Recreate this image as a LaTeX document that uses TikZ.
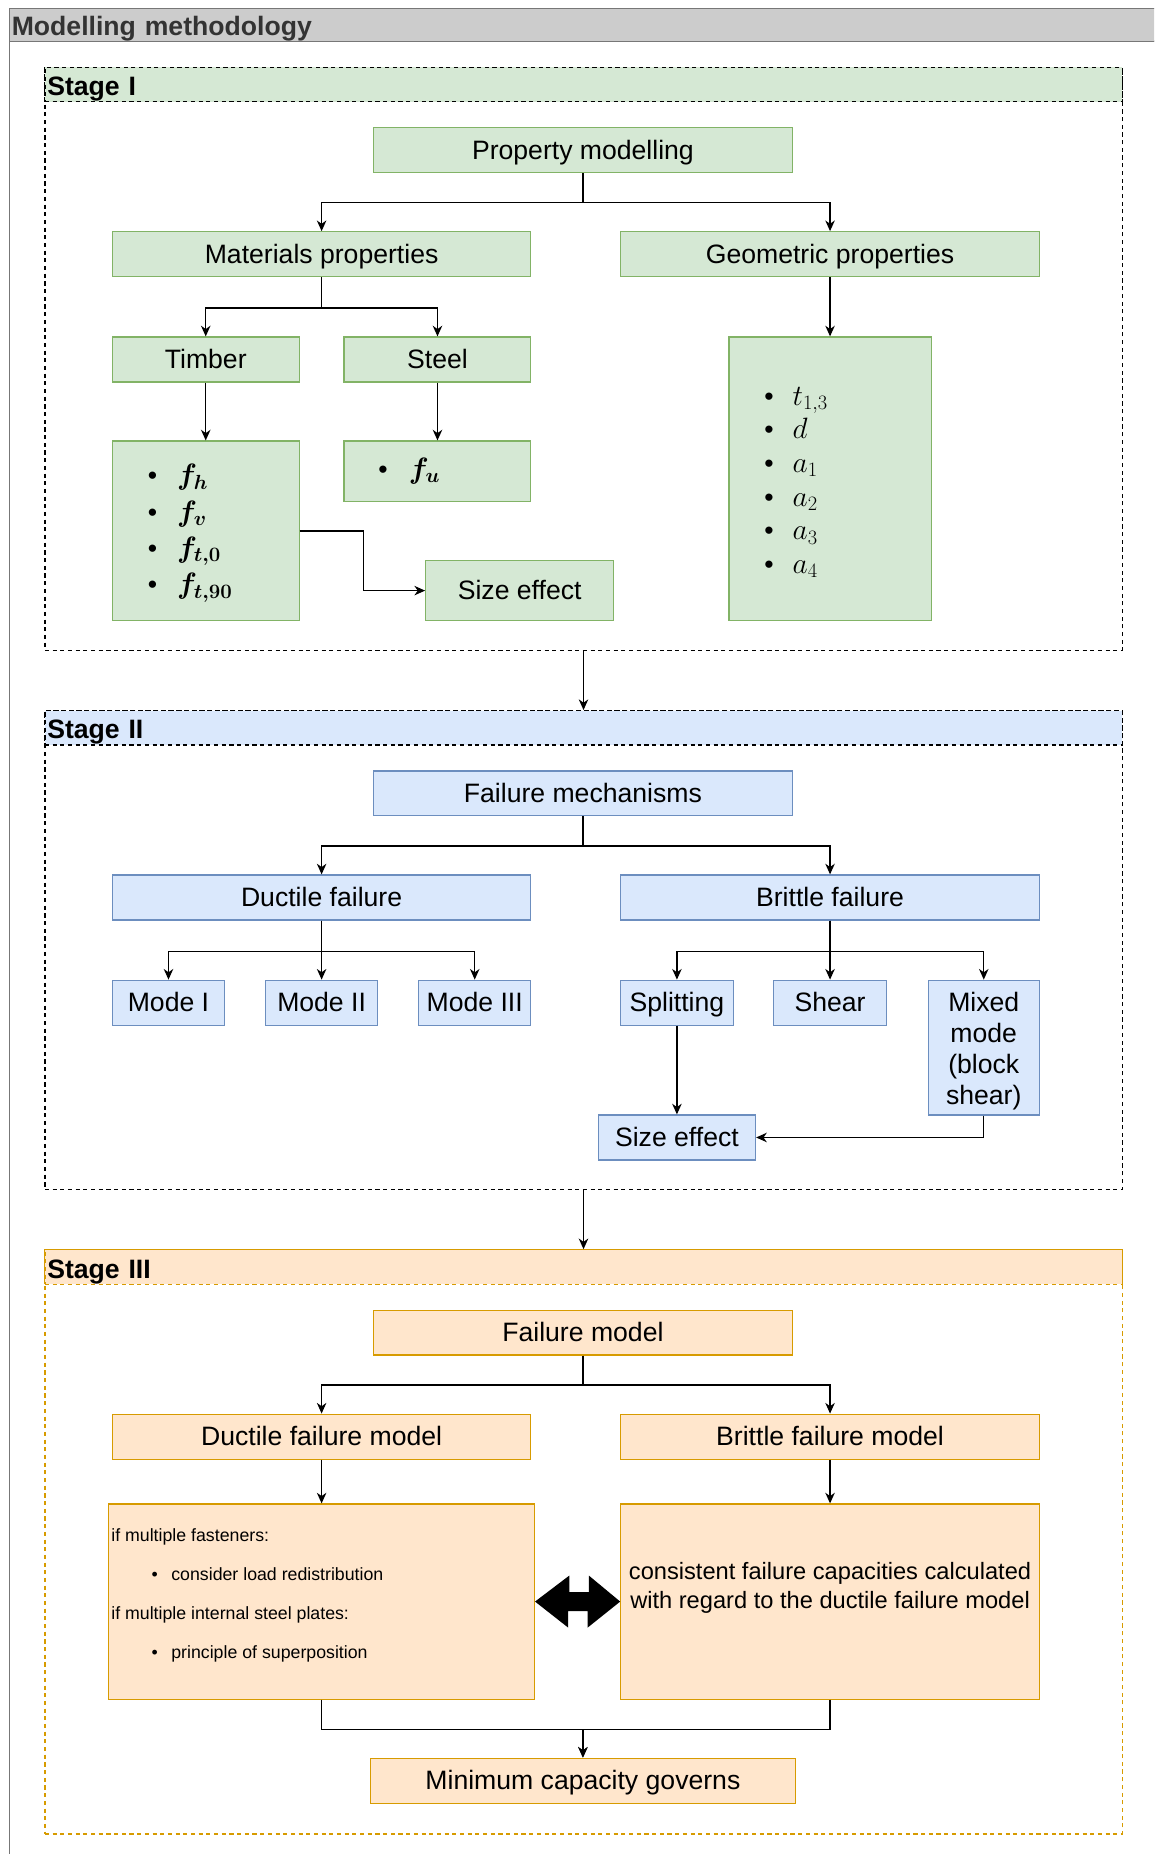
\documentclass[tikz,border=0pt]{standalone}
\usepackage{amsmath}
\usepackage{bm}
\usepackage[no-math]{fontspec}
\setmainfont{Liberation Sans}
\usetikzlibrary{arrows.meta,calc}
\definecolor{gfill}{HTML}{D5E8D4}
\definecolor{gline}{HTML}{82B366}
\definecolor{bfill}{HTML}{DAE8FC}
\definecolor{bline}{HTML}{6C8EBF}
\definecolor{ofill}{HTML}{FFE6CC}
\definecolor{oline}{HTML}{D79B00}
\definecolor{hfill}{HTML}{CCCCCC}
\definecolor{hline}{HTML}{777777}
\definecolor{htext}{HTML}{333333}
\newcommand{\fmain}{\fontsize{22.5}{26.3}\selectfont}
\newcommand{\fmath}{\fontsize{24}{30}\selectfont}
\tikzset{
  base/.style={rectangle, inner sep=0pt, line width=1pt, font=\fmain, align=center},
  one/.style={text height=20.4pt, text depth=4.8pt},
  sz/.style 2 args={minimum width=#1pt, minimum height=#2pt},
  gbox/.style={base, draw=gline, fill=gfill},
  bbox/.style={base, draw=bline, fill=bfill},
  obox/.style={base, draw=oline, fill=ofill},
  arr/.style={line width=1.2pt, -{Stealth[length=9pt,width=8pt,inset=2.8pt]}},
  dsh/.style={dash pattern=on 3.5pt off 3pt, line width=1pt},
  stagebody/.style={rectangle, inner sep=0pt, fill=white, dsh},
  stagehead/.style={rectangle, inner sep=0pt, inner xsep=2pt, dsh, sz={911}{29},
     text width=907pt, align=left, font=\fmain\bfseries, text height=23.6pt, text depth=4.8pt},
  listbox/.style={align=left, inner ysep=0pt}
}
\begin{document}
\begin{tikzpicture}[x=1pt,y=-1pt]
\useasboundingbox (0,0) rectangle (976,1568);
\clip (0,0) rectangle (976,1568);
% outer container
\node[rectangle, draw=hline, line width=1.5pt, fill=white, sz={982}{1545}, inner sep=0pt] (outer) at (499,807.5) {};
\node[rectangle, draw=hline, line width=1.2pt, fill=hfill, sz={982}{28}, inner sep=0pt, inner xsep=2pt,
      text width=978pt, align=left, font=\fmain\bfseries, text=htext,
      text height=22.4pt, text depth=4.8pt] (outerh) at (499,21) {Modelling methodology};

% ---------------- Stage I
\node[stagebody, draw=black, sz={911}{493}] (s1) at (493.5,303.5) {};
\node[stagehead, draw=black, fill=gfill] (s1h) at (493.5,71.5) {Stage I};
\node[gbox, one, sz={354}{38}] (pm) at (493,127) {Property modelling};
\node[gbox, one, sz={354}{38}] (mat) at (272,215) {Materials properties};
\node[gbox, one, sz={354}{38}] (geo) at (702,215) {Geometric properties};
\node[gbox, one, sz={158}{38}] (tim) at (174,304) {Timber};
\node[gbox, one, sz={158}{38}] (stl) at (370,304) {Steel};
\node[gbox, sz={158}{152}, listbox, inner xsep=30pt, text width=98pt,
      font=\fontsize{22.5}{30.7}\selectfont] (tl) at (174,449)
  {\rule{0pt}{21.3pt}•\hspace{17pt}{\fmath$\bm{f_h}$}\\
   •\hspace{17pt}{\fmath$\bm{f_v}$}\\
   •\hspace{17pt}{\fmath$\bm{f_{t,0}}$}\\
   •\hspace{17pt}{\fmath$\bm{f_{t,90}}$}};
\node[gbox, sz={158}{51}, listbox, inner xsep=29pt, text width=100pt] (sl) at (370,398.5)
  {•\hspace{18pt}{\fmath$\bm{f_u}$}};
\node[gbox, one, sz={159}{51}] (se1) at (439.5,499.5) {Size effect};
\node[gbox, sz={171}{240}, listbox, inner xsep=30pt, text width=111pt,
      font=\fontsize{22.5}{28.4}\selectfont] (gl) at (702,405)
  {\rule{0pt}{21.3pt}•\hspace{16pt}{\fmath$t_{1,3}$}\\
   •\hspace{16pt}{\fmath$d$}\\
   •\hspace{16pt}{\fmath$a_1$}\\
   •\hspace{16pt}{\fmath$a_2$}\\
   •\hspace{16pt}{\fmath$a_3$}\\
   •\hspace{16pt}{\fmath$a_4$}};
\draw[arr] (pm.south) -- ++(0,25) -| (mat.north);
\draw[arr] (pm.south) -- ++(0,25) -| (geo.north);
\draw[arr] (mat.south) -- ++(0,26) -| (tim.north);
\draw[arr] (mat.south) -- ++(0,26) -| (stl.north);
\draw[arr] (geo.south) -- (gl.north);
\draw[arr] (tim.south) -- (tl.north);
\draw[arr] (stl.south) -- (sl.north);
\draw[arr] (tl.east) -- ++(54,0) |- (se1.west);

% ---------------- Stage II
\node[stagebody, draw=black, sz={911}{405}] (s2) at (493.5,803.5) {};
\node[stagehead, draw=black, fill=bfill] (s2h) at (493.5,615.5) {Stage II};
\draw[arr] (s1.south) -- (s2.north);
\node[bbox, one, sz={354}{38}] (fm) at (493,671) {Failure mechanisms};
\node[bbox, one, sz={354}{38}] (duc) at (272,759) {Ductile failure};
\node[bbox, one, sz={354}{38}] (bri) at (702,759) {Brittle failure};
\node[bbox, one, sz={95}{38}] (m1) at (142.5,848) {Mode I};
\node[bbox, one, sz={95}{38}] (m2) at (272,848) {Mode II};
\node[bbox, one, sz={95}{38}] (m3) at (401.5,848) {Mode III};
\node[bbox, one, sz={95}{38}] (spl) at (572.5,848) {Splitting};
\node[bbox, one, sz={95}{38}] (shr) at (702,848) {Shear};
\node[bbox, sz={94}{114}] (mix) at (832,886) {\rule{0pt}{22pt}Mixed\\mode\\(block\\shear)};
\node[bbox, one, sz={133}{38}] (se2) at (572.5,962) {Size effect};
\draw[arr] (fm.south) -- ++(0,25) -| (duc.north);
\draw[arr] (fm.south) -- ++(0,25) -| (bri.north);
\draw[arr] (duc.south) -- ++(0,26) -| (m1.north);
\draw[arr] (duc.south) -- ++(0,26) -| (m2.north);
\draw[arr] (duc.south) -- ++(0,26) -| (m3.north);
\draw[arr] (bri.south) -- ++(0,26) -| (spl.north);
\draw[arr] (bri.south) -- ++(0,26) -| (shr.north);
\draw[arr] (bri.south) -- ++(0,26) -| (mix.north);
\draw[arr] (spl.south) -- (se2.north);
\draw[arr] (mix.south) |- (se2.east);

% ---------------- Stage III
\node[stagebody, draw=oline, sz={911}{494}] (s3) at (493.5,1304) {};
\node[stagehead, draw=oline, fill=ofill] (s3h) at (493.5,1071.5) {Stage III};
\draw[arr] (s2.south) -- (s3.north);
\node[obox, one, sz={354}{38}] (fmod) at (493,1127) {Failure model};
\node[obox, one, sz={354}{38}] (dfm) at (272,1215) {Ductile failure model};
\node[obox, one, sz={354}{38}] (bfm) at (702,1215) {Brittle failure model};
\node[obox, sz={360}{165}] (dm) at (272,1354.5) {};
\node[obox, sz={354}{165}] (bm) at (702,1354.5) {};
\node[anchor=west, align=left, inner sep=0pt, font=\fontsize{15}{33}\selectfont] (dmt) at (94,1349.5)
  {if multiple fasteners:\\
   \hspace{34pt}•\hspace{11.5pt}consider load redistribution\\
   if multiple internal steel plates:\\
   \hspace{34pt}•\hspace{11.5pt}principle of superposition};
\node[align=center, inner sep=0pt, font=\fontsize{20}{24}\selectfont] (bmt) at (702,1343)
  {consistent failure capacities calculated\\with regard to the ductile failure model};
\node[obox, one, sz={360}{38}] (mcg) at (493,1506) {Minimum capacity governs};
\draw[arr] (fmod.south) -- ++(0,25) -| (dfm.north);
\draw[arr] (fmod.south) -- ++(0,25) -| (bfm.north);
\draw[arr] (dfm.south) -- (dm.north);
\draw[arr] (bfm.south) -- (bm.north);
\draw[arr] (dm.south) -- ++(0,25) -| (mcg.north);
\draw[arr] (bm.south) -- ++(0,25) -| (mcg.north);
% double arrow
\fill[black] (dm.east) -- ++(29,-22) -- ++(0,14) -- ++(16.5,0) -- ++(0,-14)
   -- (bm.west) -- ++(-27.5,22) -- ++(0,-14) -- ++(-16.5,0) -- ++(0,14) -- cycle;
\end{tikzpicture}
\end{document}
